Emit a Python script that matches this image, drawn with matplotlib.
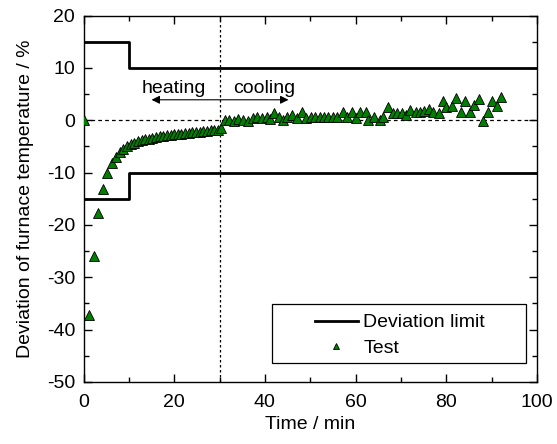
"""
Furnace temperature deviation vs. time, with deviation limits
"""
import matplotlib
matplotlib.use("Agg")
import matplotlib.pyplot as plt
from matplotlib.patches import Rectangle

plt.rcParams["font.family"] = ["Liberation Sans", "DejaVu Sans"]
plt.rcParams["font.size"] = 14
plt.rcParams["axes.unicode_minus"] = False

# deviation limit (step curve)
limit_t = [0, 10, 10, 100]
limit_upper = [15, 15, 10, 10]
limit_lower = [-15, -15, -10, -10]

# test points, heating phase
heat_t = [0, 1.2, 2.3, 3.2, 4.3, 5.2, 6.2, 7.1, 8.0, 8.8, 9.6, 10.4, 11.2, 12.0,
          12.8, 13.6, 14.4, 15.2, 16.0, 16.8, 17.6, 18.4, 19.2, 20.0, 20.8, 21.6,
          22.4, 23.2, 24.0, 24.8, 25.6, 26.4, 27.2, 28.0, 28.8, 29.6, 30.4]
heat_dev = [0, -37.2, -26.0, -17.8, -13.2, -10.0, -8.1, -7.0, -6.1, -5.5, -5.0,
            -4.6, -4.3, -4.0, -3.8, -3.6, -3.5, -3.35, -3.2, -3.1, -3.0, -2.9,
            -2.8, -2.7, -2.6, -2.55, -2.5, -2.4, -2.3, -2.25, -2.2, -2.1, -2.0,
            -1.95, -1.9, -1.8, -1.5]

# test points, cooling phase
cool_t = [31.2, 32.1, 33.2, 34.1, 35.2, 36.3, 37.4, 38.2, 39.3, 40.4, 41.1, 42.0,
          43.0, 43.9, 44.8, 45.9, 47.0, 48.1, 49.1, 50.1, 51.1, 52.2, 53.0, 54.0,
          55.1, 56.0, 57.2, 58.1, 59.2, 60.1, 61.0, 62.2, 62.8, 64.1, 65.3, 66.1,
          67.2, 68.3, 69.1, 70.2, 71.1, 72.1, 73.3, 74.2, 75.1, 76.2, 77.0, 78.3,
          79.2, 80.0, 81.2, 82.1, 83.2, 84.2, 85.3, 86.2, 87.2, 88.2, 89.2, 90.1,
          91.2, 92.1]
cool_dev = [0.1, 0.0, -0.1, 0.2, 0.1, -0.1, 0.5, 0.7, 0.5, 0.7, 0.2, 1.3,
            0.7, 0.1, 0.7, 1.0, 0.5, 1.5, 0.5, 0.7, 0.7, 0.7, 0.7, 0.7,
            0.7, 0.7, 1.6, 0.7, 1.5, 0.5, 1.6, 1.6, 0.1, 0.7, 0.1, 0.7,
            2.6, 1.3, 1.3, 1.3, 1.0, 2.0, 1.5, 1.6, 1.8, 2.1, 1.5, 1.3,
            3.7, 2.6, 2.7, 4.2, 1.5, 3.7, 1.5, 2.9, 4.0, -0.1, 1.6, 3.7,
            2.8, 4.4]

fig = plt.figure(figsize=(5.57, 4.44), dpi=100)
ax = fig.add_axes([0.150, 0.140, 0.814, 0.825])

ax.axhline(0, color="black", lw=0.9, ls=(0, (3, 2.5)), zorder=1)
ax.axvline(30, color="black", lw=0.9, ls=(0, (2, 2)), zorder=1)

ax.plot(limit_t, limit_upper, color="black", lw=2, label="Deviation limit", zorder=2)
ax.plot(limit_t, limit_lower, color="black", lw=2, zorder=2)
ax.plot(heat_t + cool_t, heat_dev + cool_dev, ls="none", marker="^", ms=7,
        mfc="#007f00", mec="black", mew=0.6, label="Test", zorder=3)

# heating / cooling annotation
ax.annotate("", xy=(15, 3.9), xytext=(45.2, 3.9),
            arrowprops=dict(arrowstyle="<|-|>", color="black", lw=0.8,
                            mutation_scale=12, shrinkA=0, shrinkB=0))
ax.text(12.8, 6.0, "heating", va="center", ha="left")
ax.text(33.0, 6.0, "cooling", va="center", ha="left")

ax.set_xlim(0, 100)
ax.set_ylim(-50, 20)
ax.set_xticks(range(0, 101, 20))
ax.set_xticks(range(10, 100, 20), minor=True)
ax.set_yticks(range(-50, 21, 10))
ax.set_yticks(range(-45, 20, 10), minor=True)
ax.tick_params(which="both", direction="in", top=True, right=True, width=1)
ax.tick_params(which="major", length=6, labelsize=14)
ax.tick_params(axis="x", which="major", pad=8.5)
ax.tick_params(axis="y", which="major", pad=6)
ax.tick_params(which="minor", length=3.5)
for s in ax.spines.values():
    s.set_linewidth(1)

ax.set_xlabel("Time / min", labelpad=4)
ax.set_ylabel("Deviation of furnace temperature / %", labelpad=9)

# legend box is wider than its content, so draw the frame separately
ax.add_patch(Rectangle((0.415, 0.052), 0.561, 0.161, transform=ax.transAxes,
                       fill=True, facecolor="white", edgecolor="black", lw=0.9, zorder=4))
leg = ax.legend(loc="center", bbox_to_anchor=(0.698, 0.127), frameon=False,
                handlelength=2.2, handletextpad=0.3, markerscale=0.7,
                labelspacing=0.4, borderpad=0, borderaxespad=0)
leg.set_zorder(5)

fig.savefig("out.png", dpi=100)
